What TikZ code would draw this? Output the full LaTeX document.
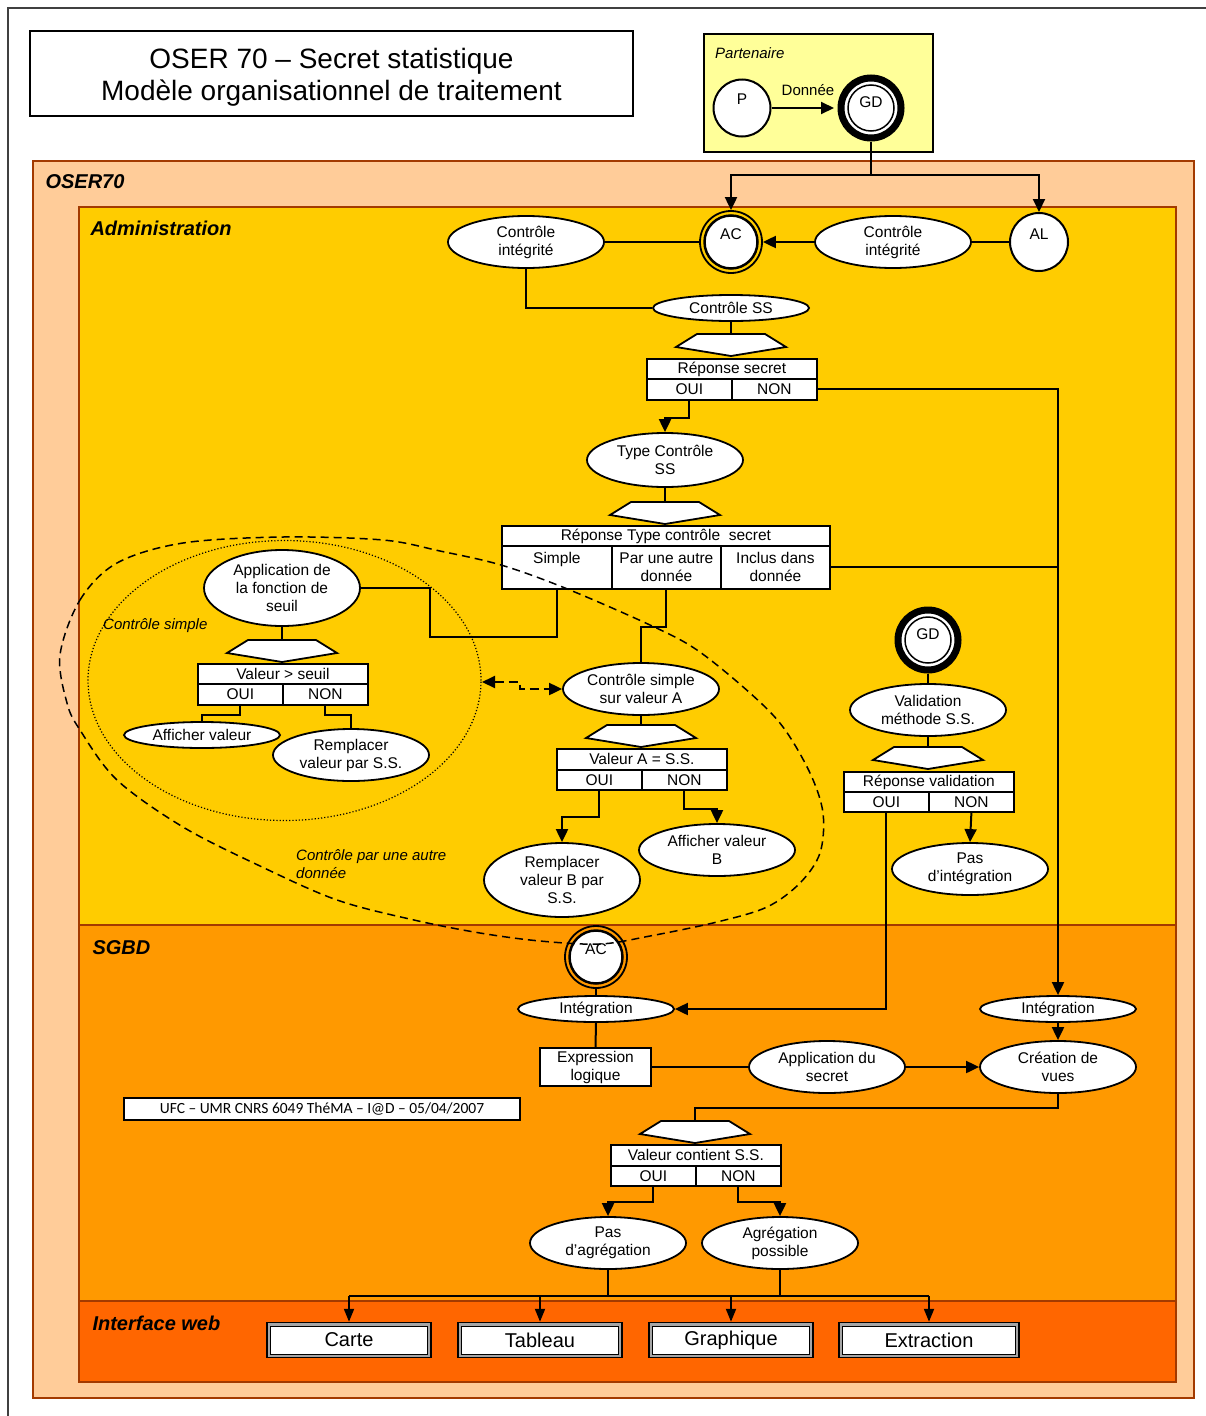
\documentclass[tikz,border=0pt]{standalone}
\usepackage{fontspec}
\setmainfont{Liberation Sans}
\newfontfamily\calib{Carlito}
\usetikzlibrary{shapes.geometric,arrows.meta}
\definecolor{peach}{HTML}{FFCC99}
\definecolor{adm}{HTML}{FFCC00}
\definecolor{sgbd}{HTML}{FF9900}
\definecolor{web}{HTML}{FF6600}
\definecolor{brd}{HTML}{A33A00}
\definecolor{part}{HTML}{FFFF99}
\newcommand{\nf}{\fontsize{15.5}{18}\selectfont}
\begin{document}
\begin{tikzpicture}[x=1pt,y=-1pt,
  conn/.style={line width=2pt, draw=black},
  arr/.style={conn, -{Triangle[length=13pt,width=12pt]}},
  ell/.style={ellipse, draw, fill=white, line width=1.8pt, inner sep=0pt, minimum width=156pt, minimum height=52pt, font=\nf, align=center},
  cell/.style={rectangle, draw, fill=white, line width=1.8pt, inner sep=0pt, anchor=north west, font=\nf, align=center},
  region/.style={rectangle, draw=brd, line width=2pt, anchor=north west, inner sep=0pt},
  reglbl/.style={anchor=base west, font=\fontsize{20}{24}\selectfont\bfseries\itshape},
  itlbl/.style={font=\fontsize{15}{18}\selectfont\itshape, align=left},
  txt/.style={font=\nf, inner sep=0pt},
  plaincirc/.style={circle, draw, line width=2pt, fill=white, inner sep=0pt},
  gdout/.style={circle, draw, line width=7pt, fill=white, minimum size=60pt, inner sep=0pt},
  gdin/.style={circle, draw, line width=1.5pt, minimum size=46pt, inner sep=0pt},
  acout/.style={circle, draw, line width=1.8pt, minimum size=62pt, inner sep=0pt},
  acin/.style={circle, draw, line width=2.5pt, fill=white, minimum size=53pt, inner sep=0pt},
  btnout/.style={rectangle, draw, line width=1.5pt, fill=black!35, minimum width=164pt, minimum height=35pt, inner sep=0pt},
  btnin/.style={rectangle, draw, line width=1pt, fill=white, minimum width=157pt, minimum height=28pt, inner sep=0pt, font=\fontsize{20}{24}\selectfont},
  hexa/.pic={\draw[line width=1.8pt, fill=white] (-34,0) -- (34,0) -- (55,13) -- (0,22) -- (-55,13) -- cycle;}
]
\useasboundingbox (0,0) rectangle (1206,1416);
\fill[white] (0,0) rectangle (1206,1416);
% outer frame
\draw[line width=2pt, draw=black!75] (8,1416) -- (8,8) -- (1206,8);

% title
\node[draw, fill=white, line width=1.5pt, minimum width=603pt, minimum height=85pt, inner sep=0pt] (title) at (331.5,73.5) {};
\node[font=\fontsize{28}{32}\selectfont, align=center, inner sep=0pt] (titletxt) at (331.5,77)
      {OSER 70 – Secret statistique\\Modèle organisationnel de traitement};

% partenaire
\node[draw, fill=part, line width=1.5pt, minimum width=229pt, minimum height=118pt, anchor=north west] (partbox) at (703,33) {};
\node[itlbl, anchor=west, inner sep=0pt] (partlbl) at (715,53) {Partenaire};

% regions
\node[region, fill=peach, minimum width=1161pt, minimum height=1237pt] (oser) at (32,160) {};
\node[region, fill=adm, minimum width=1097pt, minimum height=718pt] (admin) at (78,206) {};
\node[region, fill=sgbd, minimum width=1097pt, minimum height=376pt] (sgbdbox) at (78,924) {};
\node[region, fill=web, minimum width=1097pt, minimum height=81pt] (webbox) at (78,1300) {};
\node[reglbl] (oserlbl) at (42,188) {OSER70};
\node[reglbl] (adminlbl) at (87,235) {Administration};
\node[reglbl] (sgbdlbl) at (89,954) {SGBD};
\node[reglbl] (weblbl) at (89,1330) {Interface web};

% ---------- Partenaire nodes
\node[plaincirc, minimum size=57pt] (P) at (742,108) {};
\node[txt] (Ptxt) at (742,99) {P};
\node[gdout] (GD1) at (871,108) {};
\node[gdin] (GD1in) at (871,108) {};
\node[txt] (GD1txt) at (871,102) {GD};
\node[txt, font=\fontsize{15}{18}\selectfont] (donnee) at (808,90) {Donnée};

% ---------- Administration nodes
\node[ell] (ci1) at (526,242) {Contrôle\\intégrité};
\node[ell] (ci2) at (893,242) {Contrôle\\intégrité};
\node[acout, fill=adm] (AC1) at (731,242) {};
\node[acin] (AC1in) at (731,242) {};
\node[txt] (AC1txt) at (731,234) {AC};
\node[plaincirc, minimum size=58pt] (AL) at (1039,242) {};
\node[txt] (ALtxt) at (1039,234) {AL};

\node[ell, minimum height=26pt] (css) at (731,308) {Contrôle SS};
\pic at (731,334) {hexa};
\coordinate (h1) at (731,334);
\node[cell, minimum width=170pt, minimum height=20pt] (rs) at (646,358) {Réponse secret};
\node[cell, minimum width=85pt, minimum height=21pt] (rsOui) at (646,378) {OUI};
\node[cell, minimum width=85pt, minimum height=21pt] (rsNon) at (731,378) {NON};

\node[ell, minimum height=54pt] (tc) at (665,460) {Type Contrôle\\SS};
\pic at (665,502) {hexa};
\coordinate (h2) at (665,502);
\node[cell, minimum width=328pt, minimum height=20pt] (rt) at (501,525) {Réponse Type contrôle~ secret};
\node[cell, minimum width=110pt, minimum height=43pt] (rt1) at (501,545) {Simple\\\phantom{d}};
\node[cell, minimum width=109pt, minimum height=43pt] (rt2) at (611,545) {Par une autre\\donnée};
\node[cell, minimum width=109pt, minimum height=43pt] (rt3) at (720,545) {Inclus dans\\donnée};

% contrôle simple
\node[ell, minimum height=76pt] (app) at (282,588) {Application de\\la fonction de\\seuil};
\pic at (282,640) {hexa};
\coordinate (h3) at (282,640);
\node[cell, minimum width=170pt, minimum height=20pt] (vs) at (197,663) {Valeur > seuil};
\node[cell, minimum width=85pt, minimum height=21pt] (vsOui) at (197,683) {OUI};
\node[cell, minimum width=85pt, minimum height=21pt] (vsNon) at (282,683) {NON};
\node[ell, minimum height=26pt] (aff) at (202,735) {Afficher valeur};
\node[ell, minimum height=52pt] (rem) at (351,755) {Remplacer\\valeur par S.S.};
\node[itlbl, anchor=west, inner sep=0pt] (cslbl) at (103,626) {Contrôle simple};

% contrôle par une autre donnée
\node[ell] (csA) at (641,689) {Contrôle simple\\sur valeur A};
\pic at (641,725) {hexa};
\coordinate (h4) at (641,725);
\node[cell, minimum width=170pt, minimum height=21pt] (va) at (556,748) {Valeur A = S.S.};
\node[cell, minimum width=85pt, minimum height=20pt] (vaOui) at (556,769) {OUI};
\node[cell, minimum width=85pt, minimum height=20pt] (vaNon) at (641,769) {NON};
\node[ell, minimum height=74pt] (remB) at (562,880) {Remplacer\\valeur B par\\S.S.};
\node[ell] (affB) at (717,850) {Afficher valeur\\B};
\node[itlbl, anchor=north west, inner sep=0pt] (cadlbl) at (296,849) {Contrôle par une autre\\donnée};

% validation
\node[gdout] (GD2) at (928,640) {};
\node[gdin] (GD2in) at (928,640) {};
\node[txt] (GD2txt) at (928,634) {GD};
\node[ell] (val) at (928,710) {Validation\\méthode S.S.};
\pic at (928,747) {hexa};
\coordinate (h5) at (928,747);
\node[cell, minimum width=170pt, minimum height=20pt] (rv) at (843,771) {Réponse validation};
\node[cell, minimum width=85pt, minimum height=20pt] (rvOui) at (843,791) {OUI};
\node[cell, minimum width=85pt, minimum height=20pt] (rvNon) at (928,791) {NON};
\node[ell] (pasI) at (970,869) {Pas\\d’intégration};

% ---------- SGBD nodes
\node[acout, fill=sgbd] (AC2) at (596,957) {};
\node[acin] (AC2in) at (596,957) {};
\node[txt] (AC2txt) at (596,949) {AC};
\node[ell, minimum height=26pt] (int1) at (596,1009) {Intégration};
\node[rectangle, draw, fill=white, line width=1.8pt, minimum width=111pt, minimum height=38pt, inner sep=0pt, font=\nf, align=center] (expr) at (595.5,1067) {Expression\\logique};
\node[ell] (appS) at (827,1067) {Application du\\secret};
\node[ell, minimum height=26pt] (int2) at (1058,1009) {Intégration};
\node[ell] (crea) at (1058,1067) {Création de\\vues};
\pic at (695,1121) {hexa};
\coordinate (h6) at (695,1121);
\node[cell, minimum width=170pt, minimum height=21pt] (vc) at (610,1144) {Valeur contient S.S.};
\node[cell, minimum width=85pt, minimum height=20pt] (vcOui) at (610,1165) {OUI};
\node[cell, minimum width=85pt, minimum height=20pt] (vcNon) at (695,1165) {NON};
\node[ell] (pasA) at (608,1243) {Pas\\d’agrégation};
\node[ell] (agr) at (780,1243) {Agrégation\\possible};
\node[draw, fill=white, line width=1.5pt, minimum width=396pt, minimum height=22pt, inner sep=0pt,
      font=\calib\fontsize{15.5}{17}\selectfont] (foot) at (322,1109) {UFC – UMR CNRS 6049 ThéMA – I@D – 05/04/2007};

% ---------- Interface web
\node[btnout] (carteO) at (349,1340) {};
\node[btnin] (carte) at (349,1340) {Carte};
\node[btnout] (tabO) at (540,1340) {};
\node[btnin] (tab) at (540,1340) {Tableau};
\node[btnout] (graphO) at (731,1340) {};
\node[btnin] (graph) at (731,1340) {Graphique};
\node[btnout, minimum width=180pt] (extrO) at (929,1340) {};
\node[btnin, minimum width=173pt] (extr) at (929,1340) {Extraction};

% ---------- connectors
\draw[arr, shorten >=3.5pt] (P.east) -- (GD1.west);
\coordinate (gdsplit) at (871,175);
\draw[conn] (GD1.south) -- (gdsplit);
\draw[arr] (gdsplit) -| (AC1.north);
\draw[arr] (gdsplit) -| (AL.north);
\draw[conn] (ci1.east) -- (AC1.west);
\draw[arr] (ci2.west) -- (AC1.east);
\draw[conn] (AL.west) -- (ci2.east);
\draw[conn] (ci1.south) |- (css.west);
\draw[conn] (css.south) -- (h1);
\draw[arr] (rsOui.south) -- ++(0,17) -| (tc.north);
\draw[arr] (rsNon.east) -| (int2.north);
\draw[conn] (tc.south) -- (h2);
\draw[conn] (rt3.east) -- (rt3.east -| int2.north);
\draw[conn] (rt1.south) -- ++(0,47) -| (430,588) -- (app.east);
\draw[conn] (rt2.south) -- ++(0,37) -| (csA.north);
\draw[conn] (app.south) -- (h3);
\draw[conn] (vsOui.south) -- ++(0,9) -| (aff.north);
\draw[conn] (vsNon.south) -- ++(0,9) -| (rem.north);
\draw[conn] (csA.south) -- (h4);
\draw[arr] (vaOui.south) -- ++(0,26) -| (remB.north);
\draw[arr] (vaNon.south) -- ++(0,18) -| (affB.north);
\draw[conn] (GD2.south) -- (val.north);
\draw[conn] (val.south) -- (h5);
\draw[arr] (rvNon.south) -- (pasI.north);
\draw[arr] (rvOui.south) |- (int1.east);
\draw[conn] (AC2.south) -- (int1.north);
\draw[conn] (int1.south) -- (expr.north);
\draw[conn] (expr.east) -- (appS.west);
\draw[arr] (appS.east) -- (crea.west);
\draw[arr] (int2.south) -- (crea.north);
\draw[conn] (crea.south) -- ++(0,14) -| (h6);
\draw[arr] (vcOui.south) -- ++(0,15) -| (pasA.north);
\draw[arr] (vcNon.south) -- ++(0,15) -| (agr.north);
\coordinate (busL) at (349,1296);
\coordinate (busR) at (929,1296);
\draw[conn] (busL) -- (busR);
\draw[conn] (pasA.south) -- (pasA.south |- busL);
\draw[conn] (agr.south) -- (agr.south |- busL);
\draw[arr, -{Triangle[length=13pt,width=10pt]}] (busL) -- (carteO.north);
\draw[arr, -{Triangle[length=13pt,width=10pt]}] (tabO.north |- busL) -- (tabO.north);
\draw[arr, -{Triangle[length=13pt,width=10pt]}] (graphO.north |- busL) -- (graphO.north);
\draw[arr, -{Triangle[length=13pt,width=10pt]}] (busR) -- (extrO.north);

% dotted ellipse and dashed contour
\draw[line width=1.2pt, dash pattern=on 1.2pt off 2pt] (284.5,680.5) ellipse [x radius=196.5pt, y radius=140pt];
\coordinate (dotE) at (482,682);
\draw[conn, dash pattern=on 9pt off 5pt, {Triangle[length=13pt,width=12pt]}-{Triangle[length=13pt,width=12pt]}]
  (dotE) -- ++(38,0) |- (csA.west);
\draw[line width=1.5pt, dash pattern=on 8pt off 5pt] plot[smooth cycle, tension=0.55] coordinates {
 (60,655) (80,600) (117,563) (183,543) (283,537) (383,540) (440,551) (501,565) (565,588)
 (650,625) (697,650) (750,693) (783,727) (810,773) (823,813) (820,853) (800,883) (767,907)
 (717,922) (650,936) (600,944) (540,941) (480,933) (414,920) (337,900) (260,866) (183,827)
 (117,780) (80,730) (67,703)};
\end{tikzpicture}
\end{document}
